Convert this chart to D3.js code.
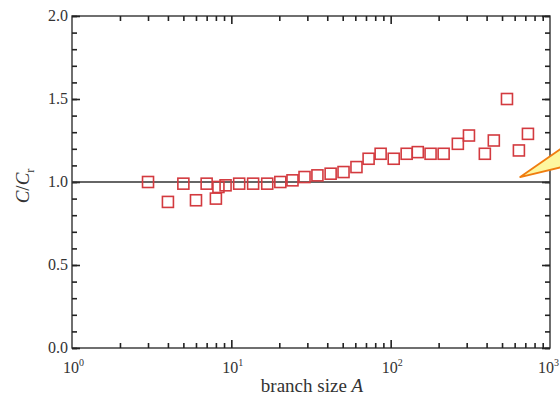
<!DOCTYPE html>
<html>
<head>
<meta charset="utf-8">
<script src="https://cdn.jsdelivr.net/npm/d3@7"></script>
<style>
  body { margin: 0; background: #fff; }
  text { font-family: "Liberation Serif", "Times New Roman", serif; fill: #333; }
</style>
</head>
<body>
<div id="chart"></div>
<script>
// branch size A
var branchSize = [3, 4, 5, 6, 7, 8, 8.3, 9.2, 11.2, 13.7, 16.8, 20.3, 24.2, 28.8, 34.7, 42,
                  50.6, 61, 72.7, 86.5, 104.5, 126, 148, 178, 215, 264, 310, 390, 444, 537, 638, 727];
// C / C_r
var ratio = [1.0, 0.88, 0.99, 0.89, 0.99, 0.90, 0.97, 0.98, 0.99, 0.99, 0.99, 1.0, 1.01, 1.03, 1.04, 1.05,
             1.06, 1.09, 1.14, 1.17, 1.14, 1.17, 1.18, 1.17, 1.17, 1.23, 1.28, 1.17, 1.25, 1.50, 1.19, 1.29];
var yTicks = [0, 0.5, 1.0, 1.5, 2.0];
var xDecades = [0, 1, 2, 3];

var W = 560, H = 396;
var margin = {top: 16, right: 10, bottom: 48, left: 72};
var width = W - margin.left - margin.right,
    height = H - margin.top - margin.bottom;

var svg = d3.select("#chart").append("svg")
    .attr("width", W)
    .attr("height", H);

var g = svg.append("g").attr("transform", "translate(" + margin.left + "," + margin.top + ")");

var x = d3.scaleLog().domain([1, 1000]).range([0, width]),
    y = d3.scaleLinear().domain([0, 2]).range([height, 0]);

// frame
g.append("rect")
    .attr("width", width).attr("height", height)
    .attr("fill", "none").attr("stroke", "#333").attr("stroke-width", 1.4);

// inward ticks on all four sides, built with d3 axes
var yMinorVals = d3.range(0, 21).map(function(k) { return k / 10; });
var xMinorVals = [];
[1, 10, 100].forEach(function(d) {
  for (var k = 2; k <= 9; k++) xMinorVals.push(d * k);
});

function addAxis(ax, tx, ty) {
  var a = g.append("g")
      .attr("transform", "translate(" + tx + "," + ty + ")")
      .call(ax.tickFormat(""));
  a.select(".domain").remove();
  a.selectAll("line").attr("stroke", "#222").attr("stroke-width", 1.6);
}
addAxis(d3.axisRight(y).tickValues(yMinorVals).tickSize(5), 0, 0);
addAxis(d3.axisRight(y).tickValues(yTicks).tickSize(8), 0, 0);
addAxis(d3.axisLeft(y).tickValues(yMinorVals).tickSize(5), width, 0);
addAxis(d3.axisLeft(y).tickValues(yTicks).tickSize(8), width, 0);
addAxis(d3.axisTop(x).tickValues(xMinorVals).tickSize(5), 0, height);
addAxis(d3.axisTop(x).tickValues([10, 100]).tickSize(8), 0, height);
addAxis(d3.axisBottom(x).tickValues(xMinorVals).tickSize(5), 0, 0);
addAxis(d3.axisBottom(x).tickValues([10, 100]).tickSize(8), 0, 0);

// y tick labels
g.selectAll(".ylab").data(yTicks).enter().append("text")
    .attr("class", "ylab")
    .attr("x", -4)
    .attr("y", function(d) { return y(d) + 5; })
    .attr("text-anchor", "end")
    .style("font-size", "16px")
    .text(function(d) { return d.toFixed(1); });

// x tick labels 10^n
var xl = g.selectAll(".xlab").data(xDecades).enter().append("text")
    .attr("class", "xlab")
    .attr("x", function(d) { return x(Math.pow(10, d)) - (d === 3 ? 12 : 9); })
    .attr("y", height + 25)
    .style("font-size", "16px");
xl.append("tspan").text("10");
xl.append("tspan").attr("dy", -7).style("font-size", "10px").text(function(d) { return d; });

// reference line C = C_r
g.append("line")
    .attr("x1", 0).attr("x2", width)
    .attr("y1", y(1)).attr("y2", y(1))
    .attr("stroke", "#333").attr("stroke-width", 1.3);

// data squares
var s = 11;
g.selectAll(".pt").data(branchSize).enter().append("rect")
    .attr("class", "pt")
    .attr("x", function(d) { return x(d) - s / 2; })
    .attr("y", function(d, i) { return y(ratio[i]) - s / 2; })
    .attr("width", s).attr("height", s)
    .attr("fill", "none")
    .attr("stroke", "#d33a3f")
    .attr("stroke-width", 1.6);

// callout wedge coming in from the right
var apexX = x(650), apexY = y(1.03);
g.append("path")
    .attr("d", "M" + (W - margin.left + 2) + "," + (apexY - 29) +
               "L" + apexX + "," + apexY +
               "L" + (W - margin.left + 2) + "," + (apexY - 10) + "Z")
    .attr("fill", "#fdf7a0")
    .attr("stroke", "#f07d10")
    .attr("stroke-width", 1.8)
    .attr("stroke-linejoin", "round");

// axis titles
var xt = svg.append("text")
    .attr("x", margin.left + width / 2 + 1)
    .attr("y", H - 4)
    .attr("text-anchor", "middle")
    .style("font-size", "19px");
xt.append("tspan").text("branch size ");
xt.append("tspan").style("font-style", "italic").text("A");

var yt = svg.append("text")
    .attr("transform", "translate(29," + (margin.top + y(1.0) + 4) + ") rotate(-90)")
    .attr("text-anchor", "middle")
    .style("font-size", "19px");
yt.append("tspan").style("font-style", "italic").text("C");
yt.append("tspan").text("/");
yt.append("tspan").style("font-style", "italic").text("C");
yt.append("tspan").attr("dy", 5).style("font-size", "12px").text("r");
</script>
</body>
</html>
